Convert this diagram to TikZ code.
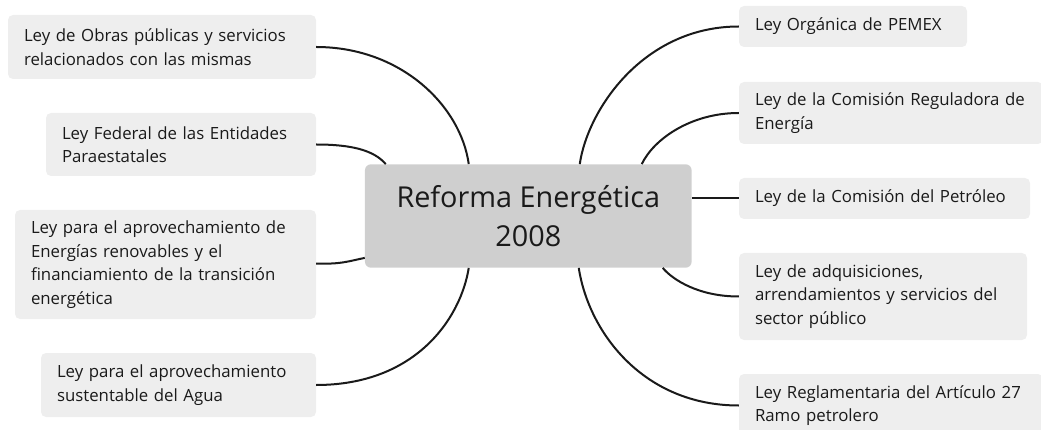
\documentclass[tikz,border=0pt]{standalone}
\usepackage{fontspec}
\setmainfont{Open Sans}
\usetikzlibrary{calc}
\hyphenpenalty=10000
\hbadness=10000
\hfuzz=200pt
\definecolor{boxfill}{HTML}{EEEEEE}
\definecolor{centerfill}{HTML}{CFCFCF}
\definecolor{ink}{HTML}{1A1A1A}
\tikzset{
  leaf/.style={rectangle, rounded corners=5pt, fill=boxfill, draw=none,
    inner xsep=16pt, inner ysep=0pt, align=left, text=ink,
    font=\fontsize{16.8}{23.5}\selectfont},
  hub/.style={rectangle, rounded corners=6pt, fill=centerfill, draw=none,
    align=center, text=ink, font=\fontsize{28.8}{38.5}\selectfont},
  link/.style={line width=2pt, draw=ink},
}
\newcommand{\leafbox}[6]{% name, cx, cy, w, h, text
  \node[leaf, minimum width=#4pt, minimum height=#5pt, text width=#4pt-32pt] (#1) at (#2,#3) {#6};}
\begin{document}
\begin{tikzpicture}[x=1pt,y=-1pt]
\useasboundingbox (0,0) rectangle (1041,430);
\clip (0,0) rectangle (1041,430);
\node[hub, minimum width=326.7pt, minimum height=103.4pt] (c) at (528.3,216) {Reforma Energética\\2008};
\leafbox{l1}{162}{47}{308}{64}{Ley de Obras públicas y servicios\\relacionados con las mismas}
\leafbox{l2}{181}{144.5}{270}{63}{Ley Federal de las Entidades\\Paraestatales}
\leafbox{l3}{165.5}{264.5}{301}{109}{Ley para el aprovechamiento de\\Energías renovables y el\\financiamiento de la transición\\energética}
\leafbox{l4}{178.5}{385}{275}{64}{Ley para el aprovechamiento\\sustentable del Agua}
\leafbox{r1}{853}{26.5}{228}{41}{Ley Orgánica de PEMEX}
\leafbox{r2}{891}{113}{304}{62}{Ley de la Comisión Reguladora de\\Energía}
\leafbox{r3}{884.5}{198.5}{291}{41}{Ley de la Comisión del Petróleo}
\leafbox{r4}{883}{296.5}{288}{87}{Ley de adquisiciones,\\arrendamientos y servicios del\\sector público}
\leafbox{r5}{891}{405.5}{304}{63}{Ley Reglamentaria del Artículo 27\\Ramo petrolero}
% anchor points on the hub
\coordinate (ct1) at ($(c.north west)+(104,0)$);
\coordinate (ct2) at ($(c.north west)+(21,0)$);
\coordinate (ct3) at ($(c.north west)+(215,0)$);
\coordinate (ct4) at ($(c.north west)+(277,0)$);
\coordinate (cb1) at ($(c.south west)+(104,0)$);
\coordinate (cb2) at ($(c.south west)+(214,0)$);
\coordinate (cb3) at ($(c.south west)+(298,0)$);
\coordinate (cl1) at ($(c.south west)+(0,-10)$);
\draw[link] (l1.east) .. controls ($(l1.east)+(85,0)$) and ($(ct1)+(-8,-58)$) .. (ct1);
\draw[link] (l2.east) .. controls ($(l2.east)+(35,0)$) and ($(ct2)+(-12,-14)$) .. (ct2);
\draw[link] ([yshift=1pt]l3.east) .. controls ($(l3.east)+(25,0)$) and ($(cl1)+(-15,3)$) .. (cl1);
\draw[link] (l4.east) .. controls ($(l4.east)+(100,0)$) and ($(cb1)+(-8,50)$) .. (cb1);
\draw[link] (r1.west) .. controls ($(r1.west)+(-95,0)$) and ($(ct3)+(8,-55)$) .. (ct3);
\draw[link] (r2.west) .. controls ($(r2.west)+(-48,0)$) and ($(ct4)+(12,-25)$) .. (ct4);
\draw[link] (r3.west) -- (r3.west -| c.east);
\draw[link] (r4.west) .. controls ($(r4.west)+(-40,0)$) and ($(cb3)+(10,12)$) .. (cb3);
\draw[link] (r5.west) .. controls ($(r5.west)+(-95,0)$) and ($(cb2)+(10,65)$) .. (cb2);
\end{tikzpicture}
\end{document}
